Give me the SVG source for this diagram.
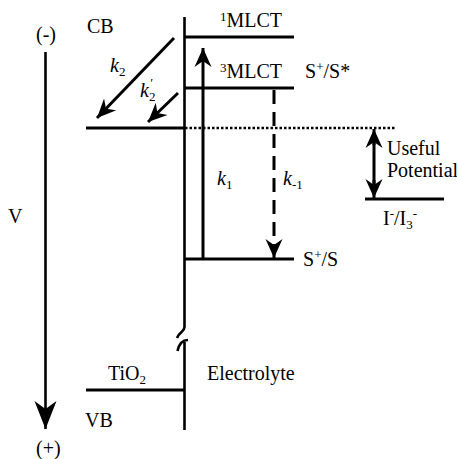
<svg xmlns="http://www.w3.org/2000/svg" width="457" height="459" viewBox="0 0 457 459">
<style>
text{font-family:"Liberation Serif","Times New Roman",serif;font-size:20px;fill:#000}
.it{font-style:italic}
.ln{stroke:#000;stroke-width:3;fill:none}
.thin{stroke:#000;stroke-width:2.6;fill:none}
</style>
<defs>
<marker id="ah" markerUnits="userSpaceOnUse" markerWidth="22" markerHeight="18" refX="19" refY="8.5" orient="auto" viewBox="0 0 22 17">
<path d="M19,8.5 L0,0 L6,8.5 L0,17 Z" fill="#000"/>
</marker>
<marker id="ahBig" markerUnits="userSpaceOnUse" markerWidth="30" markerHeight="24" refX="28" refY="11" orient="auto" viewBox="0 0 30 22">
<path d="M28,11 L0,0 L8,11 L0,22 Z" fill="#000"/>
</marker>
</defs>
<rect width="457" height="459" fill="#fff"/>

<g id="axis">
<line class="thin" x1="45.5" y1="52" x2="45.5" y2="429" marker-end="url(#ahBig)"/>
<text x="36" y="41">(-)</text>
<text x="8" y="223">V</text>
<text x="36" y="455">(+)</text>
</g>

<g id="interface">
<path class="thin" d="M184.5,17 V327 C184.5,332 179,332 177,338"/>
<path class="thin" d="M188,340 C182,340 179,344 177.5,351"/>
<path class="thin" d="M184.5,342 V430"/>
</g>

<g id="CB">
<line class="ln" x1="86" y1="128" x2="184" y2="128"/>
<text x="87" y="33">CB</text>
</g>

<g id="TiO2">
<line class="ln" x1="86" y1="390" x2="184" y2="390"/>
<text x="108" y="380">TiO<tspan font-size="13" dy="4">2</tspan></text>
<text x="85" y="427">VB</text>
</g>

<g id="electrolyte">
<text x="207" y="380">Electrolyte</text>
</g>

<g id="MLCT1">
<line class="ln" x1="184" y1="37" x2="294" y2="37"/>
<text x="220" y="27"><tspan font-size="13" dy="-6">1</tspan><tspan dy="6">MLCT</tspan></text>
</g>

<g id="MLCT3">
<line class="ln" x1="184" y1="88" x2="294" y2="88"/>
<text x="220" y="78"><tspan font-size="13" dy="-6">3</tspan><tspan dy="6">MLCT</tspan></text>
<text x="305" y="78">S<tspan font-size="13" dy="-7">+</tspan><tspan dy="7">/S*</tspan></text>
</g>

<g id="ground">
<line class="ln" x1="184" y1="259" x2="294" y2="259"/>
<text x="303" y="266">S<tspan font-size="13" dy="-7">+</tspan><tspan dy="7">/S</tspan></text>
</g>

<g id="redox">
<line class="ln" x1="365" y1="199" x2="444" y2="199"/>
<text x="383" y="225">I<tspan font-size="13" dy="-7">-</tspan><tspan dy="7">/I</tspan><tspan font-size="13" dy="4">3</tspan><tspan font-size="13" dy="-11">-</tspan></text>
<text x="387" y="155">Useful</text>
<text x="387" y="177">Potential</text>
</g>

<g id="connectors">
<line x1="185" y1="128" x2="395" y2="128" stroke="#000" stroke-width="2.5" stroke-dasharray="2.5,2"/>
<line class="ln" x1="203" y1="259" x2="203" y2="48" marker-end="url(#ah)"/>
<line class="ln" x1="274" y1="90" x2="274" y2="258" stroke-dasharray="14,8" marker-end="url(#ah)"/>
<line class="ln" x1="174" y1="38" x2="97" y2="118" marker-end="url(#ah)"/>
<line class="ln" x1="178" y1="93" x2="148" y2="122" marker-end="url(#ah)"/>
<line class="ln" x1="374" y1="145" x2="374" y2="129" marker-end="url(#ah)"/>
<line class="ln" x1="374" y1="180" x2="374" y2="198" marker-end="url(#ah)"/>
<line class="ln" x1="374" y1="140" x2="374" y2="188"/>
<text class="it" x="110" y="72">k<tspan font-style="normal" font-size="13" dy="4">2</tspan></text>
<text class="it" x="140" y="97">k<tspan font-style="normal" font-size="13" dy="4">2</tspan><tspan font-size="13" dx="-6" dy="-14">′</tspan></text>
<text class="it" x="217" y="185">k<tspan font-style="normal" font-size="13" dy="4">1</tspan></text>
<text class="it" x="283" y="185">k<tspan font-style="normal" font-size="13" dy="4">-1</tspan></text>
</g>
</svg>
